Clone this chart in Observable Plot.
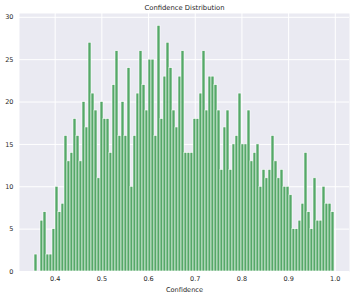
<!DOCTYPE html>
<html>
<head>
<meta charset="utf-8">
<script src="https://cdn.jsdelivr.net/npm/d3@7"></script>
<script src="https://cdn.jsdelivr.net/npm/@observablehq/plot@0.6"></script>
<style>
  html, body { margin: 0; padding: 0; background: #ffffff; }
  #chart svg { display: block; }
</style>
</head>
<body>
<div id="chart"></div>
<script>
// Histogram of confidence values: 100 equal bins from binMin to binMax
const title = "Confidence Distribution";
const xLabel = "Confidence";
const binMin = 0.3557;
const binMax = 0.9983;
const counts = [
  2, 0, 6, 7, 2, 2, 5, 10, 7, 8,
  16, 13, 14, 18, 16, 13, 20, 17, 27, 21,
  19, 11, 20, 18, 18, 14, 22, 26, 16, 20,
  16, 24, 10, 16, 21, 26, 22, 19, 25, 25,
  16, 29, 18, 23, 27, 24, 19, 17, 23, 26,
  14, 14, 14, 18, 18, 21, 26, 19, 23, 23,
  22, 19, 12, 17, 19, 12, 15, 16, 21, 15,
  15, 19, 13, 14, 15, 10, 12, 11, 12, 16,
  13, 11, 12, 10, 10, 9, 5, 5, 6, 8,
  14, 7, 5, 11, 6, 6, 10, 8, 8, 7
];
const xTicks = [0.4, 0.5, 0.6, 0.7, 0.8, 0.9, 1.0];
const yTicks = [0, 5, 10, 15, 20, 25, 30];

const binW = (binMax - binMin) / counts.length;
const bins = counts.map((c, i) => ({x1: binMin + i * binW, x2: binMin + (i + 1) * binW, count: c}));

const span = binMax - binMin;
const xDomain = [binMin - 0.05 * span, binMax + 0.05 * span];
const yDomain = [0, d3.max(counts) * 1.05];

const textColor = "#262626";
const font = "DejaVu Sans, sans-serif";

const chart = Plot.plot({
  width: 354,
  height: 297,
  marginLeft: 19,
  marginRight: 5,
  marginTop: 13,
  marginBottom: 26,
  style: {fontFamily: font, fontSize: "6.5px", color: textColor, background: "#ffffff"},
  x: {domain: xDomain, ticks: xTicks, tickFormat: d3.format(".1f")},
  y: {domain: yDomain, ticks: yTicks},
  marks: [
    Plot.frame({fill: "#EAEAF2", stroke: null}),
    Plot.gridX(xTicks, {stroke: "#ffffff", strokeOpacity: 1, strokeWidth: 1}),
    Plot.gridY(yTicks, {stroke: "#ffffff", strokeOpacity: 1, strokeWidth: 1}),
    Plot.rectY(bins, {x1: "x1", x2: "x2", y: "count", fill: "#55A868", stroke: "#ffffff", strokeWidth: 0.6}),
    Plot.axisX(xTicks, {tickSize: 0, tickPadding: 5, label: null, tickFormat: d3.format(".1f"), fill: textColor}),
    Plot.axisY(yTicks, {tickSize: 0, tickPadding: 6, label: null, fill: textColor}),
    Plot.text([title], {frameAnchor: "top", dy: -6, fontSize: 6.8, fill: textColor, lineAnchor: "middle"}),
    Plot.text([xLabel], {frameAnchor: "bottom", dy: 18, fontSize: 6.6, fill: textColor, lineAnchor: "middle"})
  ]
});
document.getElementById("chart").appendChild(chart);
</script>
</body>
</html>
